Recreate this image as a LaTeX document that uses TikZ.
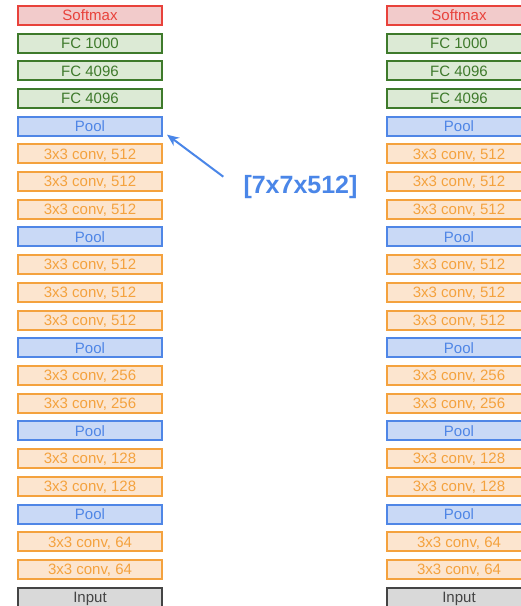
\documentclass[tikz,border=0pt]{standalone}
\usepackage{fontspec}
\setmainfont{Liberation Sans}
\usetikzlibrary{arrows.meta,calc}
\definecolor{smaxD}{HTML}{E8423B}
\definecolor{smaxL}{HTML}{F2CBCB}
\definecolor{fcD}{HTML}{3E7A2B}
\definecolor{fcL}{HTML}{DCEAD5}
\definecolor{poolD}{HTML}{4F86E6}
\definecolor{poolL}{HTML}{C9D9F6}
\definecolor{convD}{HTML}{F4A23E}
\definecolor{convL}{HTML}{FCE5CF}
\definecolor{inD}{HTML}{444444}
\definecolor{inL}{HTML}{D9D9D9}
\definecolor{lblue}{HTML}{4A86E8}
\tikzset{
  layer/.style={draw, line width=2pt, minimum width=144pt, minimum height=19pt,
    inner sep=0pt, text height=10.6pt, text depth=0pt,
    font=\fontsize{15}{15}\selectfont},
  smax/.style={layer, draw=smaxD, fill=smaxL, text=smaxD},
  fc/.style={layer, draw=fcD, fill=fcL, text=fcD},
  pool/.style={layer, draw=poolD, fill=poolL, text=poolD},
  conv/.style={layer, draw=convD, fill=convL, text=convD},
  inp/.style={layer, draw=inD, fill=inL, text=inD},
  arr/.style={draw=lblue, line width=2pt, -{Stealth[length=12pt,width=10pt]}},
  lbl/.style={text=lblue, font=\fontsize{25}{25}\selectfont\bfseries, inner sep=0pt}
}
\begin{document}
\begin{tikzpicture}[x=1pt,y=-1pt]
\useasboundingbox (0,0) rectangle (521,606);
\clip (0,0) rectangle (521,606);
\fill[white] (0,0) rectangle (521,606);
\foreach \side/\cx in {l/90,r/459}{
  \foreach \i/\st/\txt in {0/smax/Softmax,1/fc/FC 1000,2/fc/FC 4096,3/fc/FC 4096,
    4/pool/Pool,5/conv/{3x3 conv, 512},6/conv/{3x3 conv, 512},7/conv/{3x3 conv, 512},
    8/pool/Pool,9/conv/{3x3 conv, 512},10/conv/{3x3 conv, 512},11/conv/{3x3 conv, 512},
    12/pool/Pool,13/conv/{3x3 conv, 256},14/conv/{3x3 conv, 256},
    15/pool/Pool,16/conv/{3x3 conv, 128},17/conv/{3x3 conv, 128},
    18/pool/Pool,19/conv/{3x3 conv, 64},20/conv/{3x3 conv, 64},21/inp/Input}{
    \node[\st] (\side\i) at (\cx, 15.3+27.71*\i) {\txt};
  }
}
\node[lbl] (dim) at (300.5,187.5) {[7x7x512]};
\coordinate (tail) at (223.3,176.7);
\draw[arr] (tail) -- ($(l4.south east)+(4,-2)$);
\end{tikzpicture}
\end{document}
